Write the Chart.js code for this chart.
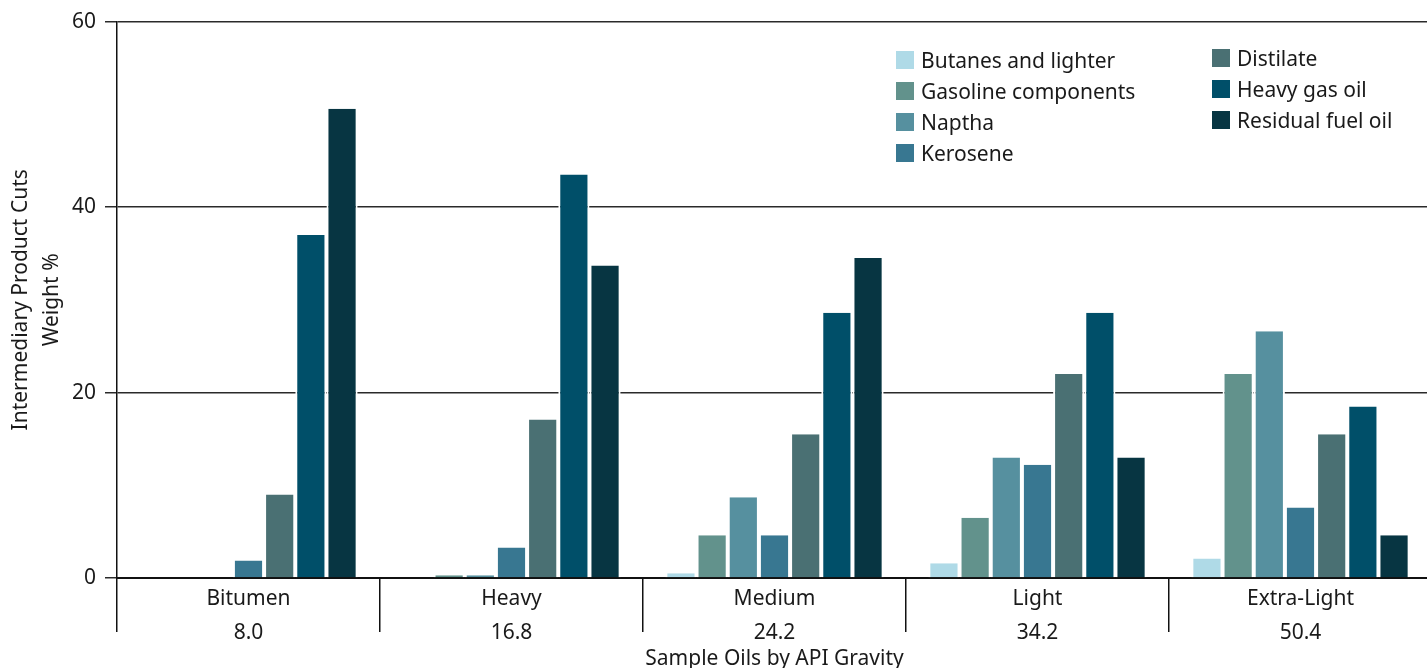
<!DOCTYPE html>
<html>
<head>
<meta charset="utf-8">
<script src="https://cdn.jsdelivr.net/npm/chart.js@4/dist/chart.umd.min.js"></script>
<style>
  html, body { margin: 0; padding: 0; background: #fff; overflow: hidden; }
  #wrap { position: relative; width: 1427px; height: 668px; overflow: hidden; }
  #legend { position: absolute; left: 896px; top: 44px; font-family: "Noto Sans", sans-serif; font-size: 21px; color: #1a1a1a; }
  .col { position: absolute; top: 0; }
  .item { display: flex; align-items: center; height: 31px; white-space: nowrap; }
  .sw { width: 18px; height: 18px; margin-right: 7px; }
</style>
</head>
<body>
<div id="wrap">
  <canvas id="cuts" width="1432" height="668"></canvas>
  <div id="legend"></div>
</div>
<script>
const categories = [["Bitumen", "8.0"], ["Heavy", "16.8"], ["Medium", "24.2"], ["Light", "34.2"], ["Extra-Light", "50.4"]];
const yTicks = [0, 20, 40, 60];

const butanes   = [0,    0,    0.5,  1.6,  2.1];
const gasoline  = [0,    0.3,  4.6,  6.5,  22.0];
const naptha    = [0,    0.3,  8.7,  13.0, 26.6];
const kerosene  = [1.9,  3.3,  4.6,  12.2, 7.6];
const distilate = [9.0,  17.1, 15.5, 22.0, 15.5];
const heavyGas  = [37.0, 43.5, 28.6, 28.6, 18.5];
const residual  = [50.6, 33.7, 34.5, 13.0, 4.6];

const series = [
  { label: "Butanes and lighter", data: butanes, color: "#afdae7" },
  { label: "Gasoline components", data: gasoline, color: "#62928c" },
  { label: "Naptha", data: naptha, color: "#56909f" },
  { label: "Kerosene", data: kerosene, color: "#387791" },
  { label: "Distilate", data: distilate, color: "#4a7073" },
  { label: "Heavy gas oil", data: heavyGas, color: "#004f69" },
  { label: "Residual fuel oil", data: residual, color: "#073542" }
];

const font = { family: "Noto Sans", size: 21 };

const ctx = document.getElementById("cuts");

new Chart(ctx, {
  type: "bar",
  data: {
    labels: categories,
    datasets: series.map(s => ({
      label: s.label,
      data: s.data,
      backgroundColor: s.color,
      borderColor: "#ffffff",
      borderWidth: { left: 2, right: 2, top: 0, bottom: 0 },
      borderSkipped: false,
      barPercentage: 1.0,
      categoryPercentage: 0.83
    }))
  },
  options: {
    responsive: false,
    animation: false,
    layout: { padding: { top: 21, right: 0, left: 0, bottom: 0 } },
    scales: {
      x: {
        afterFit: axis => { axis.height = 90; },
        grid: { offset: true, drawOnChartArea: false, color: "#111", lineWidth: 1.5, tickLength: 54 },
        border: { color: "#111", width: 2 },
        ticks: { font: { family: "Noto Sans", size: 21, lineHeight: 1.62 }, color: "#1a1a1a", padding: -50 },
        title: { display: true, text: "Sample Oils by API Gravity", font: font, color: "#1a1a1a", padding: { top: 0, bottom: -4 } }
      },
      y: {
        min: 0,
        max: 60,
        afterFit: axis => { axis.width = 117; },
        afterBuildTicks: axis => { axis.ticks = yTicks.map(v => ({ value: v })); },
        grid: { color: "#2a2a2a", lineWidth: 1.5, tickLength: 12 },
        border: { color: "#111", width: 1.5 },
        ticks: { font: font, color: "#1a1a1a", padding: 9 },
        title: { display: true, text: ["Intermediary Product Cuts", "Weight %"], font: { family: "Noto Sans", size: 21, lineHeight: 1.5 }, color: "#1a1a1a", padding: { top: 5, bottom: 0 } }
      }
    },
    plugins: {
      legend: { display: false },
      tooltip: { enabled: false }
    }
  }
});

// legend in two columns, built from the series
const legend = document.getElementById("legend");
const cols = [series.slice(0, 4), series.slice(4)];
const colLeft = [0, 316];
const colTop = [0, -2];
cols.forEach((items, i) => {
  const col = document.createElement("div");
  col.className = "col";
  col.style.left = colLeft[i] + "px";
  col.style.top = colTop[i] + "px";
  items.forEach(s => {
    const row = document.createElement("div");
    row.className = "item";
    row.innerHTML = '<span class="sw" style="background:' + s.color + '"></span><span>' + s.label + '</span>';
    col.appendChild(row);
  });
  legend.appendChild(col);
});
</script>
</body>
</html>
